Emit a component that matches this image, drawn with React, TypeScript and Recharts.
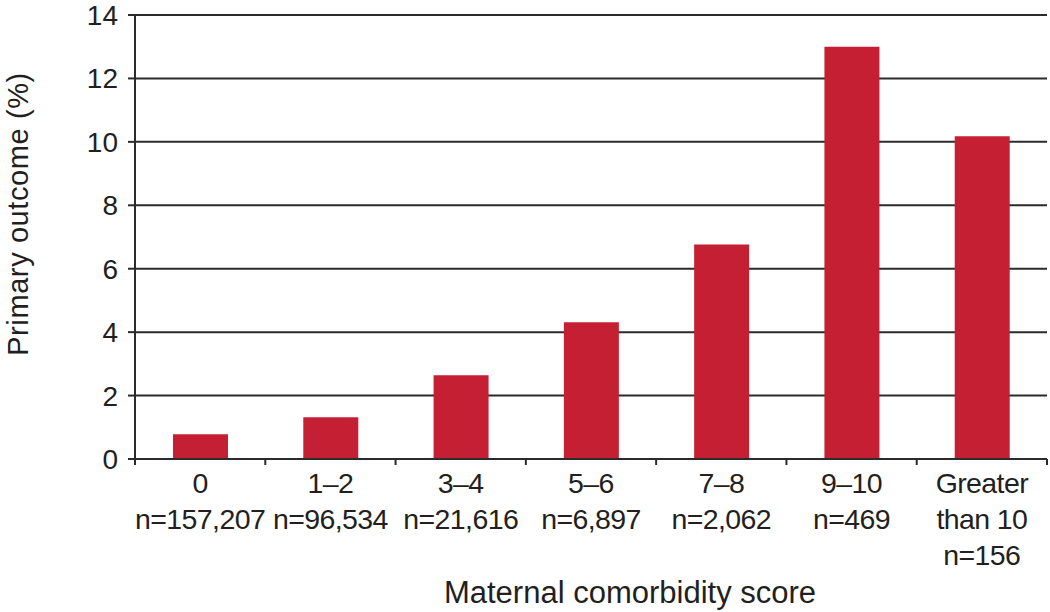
import React from "react";
import { BarChart, Bar, XAxis, YAxis, CartesianGrid } from "recharts";

const categories = ["0", "1–2", "3–4", "5–6", "7–8", "9–10", "Greater than 10"];
const sampleSizes = ["n=157,207", "n=96,534", "n=21,616", "n=6,897", "n=2,062", "n=469", "n=156"];
const outcomePct = [0.78, 1.32, 2.64, 4.31, 6.76, 13.0, 10.18];
const yTicks = [0, 2, 4, 6, 8, 10, 12, 14];

const ink = "#231f20";
const gridInk = "#2b2b2b";
const barRed = "#c41f32";
const font = "'Liberation Sans', Arial, sans-serif";

const data = categories.map((c, i) => ({ category: c, n: sampleSizes[i], value: outcomePct[i] }));

function CategoryTick(props: any) {
  const { x, y, payload, index } = props;
  const half = payload?.offset ?? 65;
  const label: string = payload.value;
  const lines = label.length > 6 ? [label.slice(0, label.indexOf(" ")), label.slice(label.indexOf(" ") + 1)] : [label];
  lines.push(sampleSizes[index]);
  return (
    <g>
      <line x1={x - half} x2={x - half} y1={y} y2={y + 6} stroke={gridInk} strokeWidth={2} />
      {index === categories.length - 1 && (
        <line x1={x + half} x2={x + half} y1={y} y2={y + 6} stroke={gridInk} strokeWidth={2} />
      )}
      <text x={x} y={y} textAnchor="middle" fontSize={28.5} letterSpacing={-0.6} fill={ink} fontFamily={font}>
        {lines.map((l, i) => (
          <tspan key={i} x={x} dy={i === 0 ? 34 : 36}>{l}</tspan>
        ))}
      </text>
    </g>
  );
}

function XTitle(props: any) {
  const vb = props.viewBox;
  return (
    <text x={vb.x + vb.width / 2 + 39} y={vb.y + 144} textAnchor="middle" fontSize={31} fill={ink} fontFamily={font}>
      Maternal comorbidity score
    </text>
  );
}

function YTitle(props: any) {
  const vb = props.viewBox;
  const cy = 214;
  return (
    <text x={28} y={cy} transform={`rotate(-90, 28, ${cy})`} textAnchor="middle" fontSize={29} letterSpacing={0.6} fill={ink} fontFamily={font}>
      Primary outcome (%)
    </text>
  );
}

export default function App() {
  return (
    <div style={{ position: "absolute", left: 0, top: 0, background: "#fff" }}>
      <BarChart
        width={1050}
        height={612}
        data={data}
        margin={{ top: 15, right: 3, left: 0, bottom: 0 }}
        style={{ fontFamily: font }}
      >
        <CartesianGrid vertical={false} stroke={gridInk} strokeWidth={2} />
        <XAxis
          dataKey="category"
          height={153}
          interval={0}
          tickSize={0}
          tickMargin={0}
          tickLine={false}
          axisLine={{ stroke: gridInk, strokeWidth: 2 }}
          tick={<CategoryTick />}
          label={(p: any) => <XTitle {...p} />}
        />
        <YAxis
          width={135}
          domain={[0, 14]}
          ticks={yTicks}
          interval={0}
          tickSize={7}
          tickMargin={10}
          tickLine={{ stroke: gridInk, strokeWidth: 2 }}
          axisLine={{ stroke: gridInk, strokeWidth: 2 }}
          tick={{ fontSize: 28, fill: ink, fontFamily: font }}
          label={(p: any) => <YTitle {...p} />}
        />
        <Bar dataKey="value" fill={barRed} barSize={55} isAnimationActive={false} />
      </BarChart>
    </div>
  );
}
